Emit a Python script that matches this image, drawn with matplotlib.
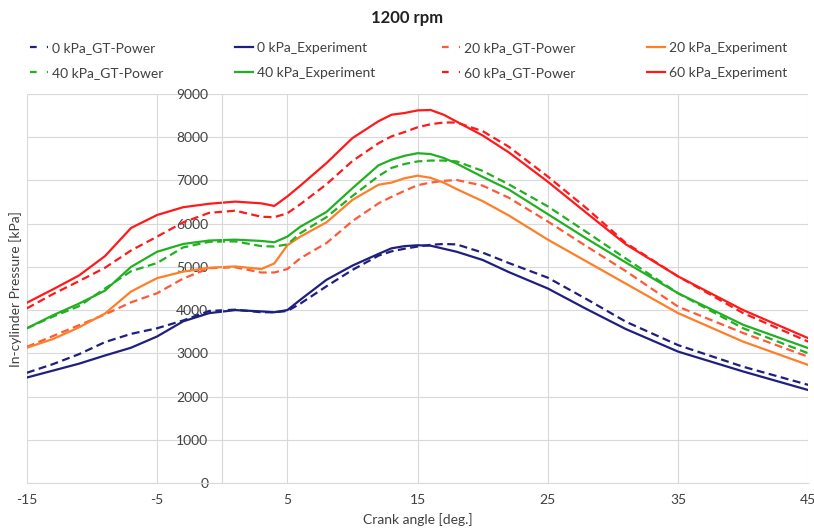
import numpy as np
import matplotlib.pyplot as plt
from matplotlib.lines import Line2D

plt.rcParams['font.family'] = ['Lato', 'DejaVu Sans']
plt.rcParams['axes.unicode_minus'] = False

# Crank angle [deg.]
crank = [-15, -13, -11, -9, -7, -5, -3, -1, 1, 3, 4, 5, 6, 8, 10, 12, 13, 14, 15,
         16, 17, 18, 20, 22, 25, 28, 31, 35, 40, 45]

# In-cylinder pressure [kPa]
p0_exp = [2440, 2600, 2760, 2950, 3130, 3390, 3740, 3930, 4000, 3970, 3950, 4000, 4240,
          4700, 5030, 5300, 5430, 5480, 5500, 5490, 5420, 5350, 5160, 4880, 4500, 4020,
          3560, 3040, 2580, 2150]
p0_gt = [2550, 2750, 2980, 3260, 3450, 3580, 3760, 3980, 4010, 3950, 3950, 3980, 4150,
         4550, 4930, 5260, 5360, 5420, 5470, 5510, 5530, 5520, 5330, 5090, 4750, 4250,
         3730, 3190, 2690, 2270]
p20_exp = [3130, 3330, 3600, 3920, 4430, 4740, 4890, 4980, 5010, 4950, 5080, 5500, 5700,
           6030, 6550, 6900, 6950, 7050, 7110, 7060, 6950, 6800, 6520, 6190, 5630, 5120,
           4610, 3930, 3270, 2730]
p20_gt = [3150, 3400, 3650, 3900, 4180, 4390, 4730, 4970, 4990, 4870, 4870, 4950, 5200,
          5550, 6060, 6470, 6620, 6760, 6890, 6950, 6990, 7010, 6880, 6600, 6050, 5470,
          4900, 4080, 3470, 2920]
p40_exp = [3580, 3880, 4150, 4450, 5000, 5350, 5530, 5610, 5630, 5600, 5570, 5700, 5930,
           6270, 6820, 7350, 7480, 7570, 7630, 7610, 7520, 7390, 7080, 6790, 6220, 5650,
           5100, 4390, 3660, 3120]
p40_gt = [3580, 3850, 4090, 4500, 4900, 5090, 5450, 5580, 5590, 5480, 5470, 5520, 5780,
          6150, 6640, 7100, 7290, 7380, 7440, 7460, 7460, 7440, 7220, 6910, 6400, 5800,
          5190, 4390, 3580, 3000]
p60_exp = [4170, 4480, 4800, 5250, 5900, 6200, 6380, 6460, 6510, 6470, 6410, 6630, 6880,
           7400, 7980, 8370, 8520, 8560, 8620, 8630, 8520, 8360, 8040, 7650, 6970, 6240,
           5520, 4780, 4000, 3350]
p60_gt = [4040, 4370, 4670, 4980, 5380, 5700, 6030, 6250, 6300, 6160, 6150, 6240, 6450,
          6910, 7450, 7860, 8020, 8120, 8230, 8300, 8340, 8340, 8140, 7780, 7090, 6350,
          5550, 4780, 3930, 3270]

xticks = [-15, -5, 5, 15, 25, 35, 45]
yticks = list(range(0, 9001, 1000))

navy = '#1f1f80'
orange = '#ff7f27'
tomato = '#ff5a36'
green = '#22b022'
red = '#ff1a1a'

fig = plt.figure(figsize=(8.14, 5.31), dpi=100)
ax = fig.add_axes([0.033, 0.0904, 0.960, 0.7326])

lw = 1.6
dash = (0, (3.6, 2))
series = [
    (p0_gt, navy, dash, '0 kPa_GT-Power'),
    (p0_exp, navy, '-', '0 kPa_Experiment'),
    (p20_gt, tomato, dash, '20 kPa_GT-Power'),
    (p20_exp, orange, '-', '20 kPa_Experiment'),
    (p40_gt, green, dash, '40 kPa_GT-Power'),
    (p40_exp, green, '-', '40 kPa_Experiment'),
    (p60_gt, red, dash, '60 kPa_GT-Power'),
    (p60_exp, red, '-', '60 kPa_Experiment'),
]
for vals, col, ls, lab in series:
    ax.plot(crank, vals, color=col, linestyle=ls, lw=lw)

ax.set_xlim(-15, 45)
ax.set_ylim(0, 9000)
ax.set_xticks(xticks)
ax.set_yticks(yticks)
ax.grid(True, color='#d9d9d9', lw=0.8)
ax.set_axisbelow(True)

for s in ['top', 'right']:
    ax.spines[s].set_visible(False)
ax.spines['left'].set_position(('data', 0))
ax.spines['left'].set_color('#d9d9d9')
ax.spines['bottom'].set_color('#d9d9d9')
ax.tick_params(axis='both', length=0, labelsize=10, colors='#404040')
ax.tick_params(axis='y', pad=10)
ax.tick_params(axis='x', pad=8)

fig.text(0.5, 0.966, '1200 rpm', ha='center', va='center', fontsize=12,
         fontweight='bold', color='#202020')
fig.text(0.513, 0.022, 'Crank angle [deg.]', ha='center', va='center',
         fontsize=10, color='#404040')
fig.text(0.019, 0.455, 'In-cylinder Pressure [kPa]', ha='center', va='center',
         rotation=90, fontsize=10, color='#404040')

# legend: 4 columns, 2 rows, filled row by row
col_x = [30, 235, 442, 647]
for j, x0 in enumerate(col_x):
    hs, labs = [], []
    for k in (j, j + 4):
        vals, col, ls, lab = series[k]
        if ls == '-':
            h = Line2D([], [], color=col, lw=lw)
        else:
            h = Line2D([], [], color=col, lw=lw, linestyle=(0, (3, 4.6)))
        hs.append(h)
        labs.append(lab)
    fig.legend(hs, labs, loc='center left', bbox_to_anchor=(x0 / 814, 1 - 60.5 / 531),
               frameon=False, fontsize=10, handlelength=1.3, handletextpad=0.25,
               borderaxespad=0, borderpad=0, labelspacing=0.95, labelcolor='#404040')

fig.savefig('out.png', dpi=100)
